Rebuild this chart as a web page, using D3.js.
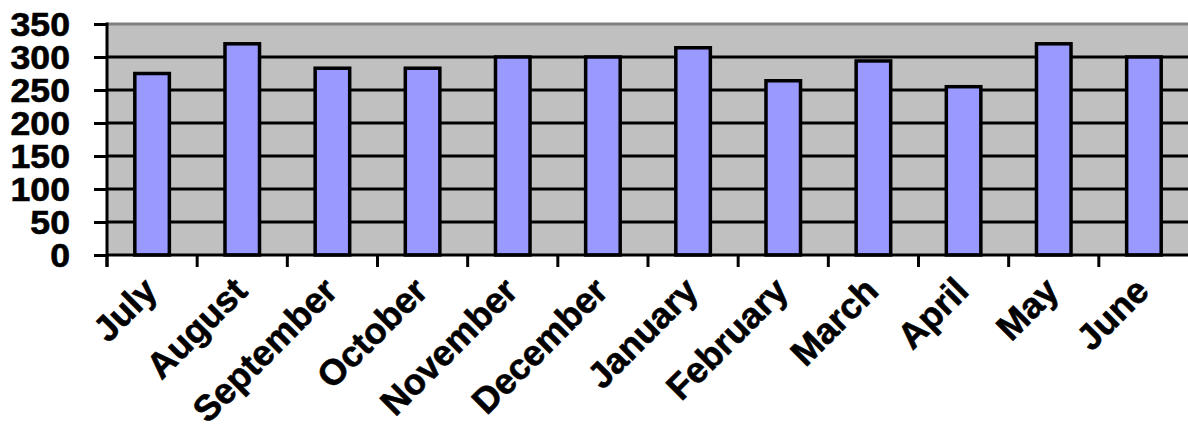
<!DOCTYPE html>
<html>
<head>
<meta charset="utf-8">
<script src="https://cdn.jsdelivr.net/npm/d3@7"></script>
<style>
  html, body { margin: 0; padding: 0; background: #fff; }
  svg { display: block; }
  text { font-family: "Liberation Sans", Arial, sans-serif; font-weight: bold; fill: #000; }
</style>
</head>
<body>
<svg id="chart" width="1188" height="432"></svg>
<script>
// Monthly values, July through June
const months = ["July", "August", "September", "October", "November", "December",
                "January", "February", "March", "April", "May", "June"];
const values = [275, 320, 283, 283, 300, 300, 314, 264, 294, 255, 320, 300];
const yTicks = [0, 50, 100, 150, 200, 250, 300, 350];

const svg = d3.select("#chart");
const plot = { left: 107, right: 1189, top: 24, bottom: 255 };

const x = d3.scaleBand()
  .domain(months)
  .range([plot.left, plot.right])
  .paddingInner(0.617)
  .paddingOuter(0.617 / 2);

const y = d3.scaleLinear()
  .domain([0, 350])
  .range([plot.bottom, plot.top]);

// Plot area background
svg.append("rect")
  .attr("x", plot.left)
  .attr("y", plot.top)
  .attr("width", plot.right - plot.left)
  .attr("height", plot.bottom - plot.top)
  .attr("fill", "#c0c0c0");

// Top border of plot area
svg.append("line")
  .attr("x1", plot.left).attr("x2", plot.right)
  .attr("y1", plot.top).attr("y2", plot.top)
  .attr("stroke", "#808080").attr("stroke-width", 3);

// Horizontal gridlines
svg.append("g")
  .selectAll("line")
  .data(yTicks.filter(t => t > 0 && t < 350))
  .join("line")
  .attr("x1", plot.left).attr("x2", plot.right)
  .attr("y1", d => y(d)).attr("y2", d => y(d))
  .attr("stroke", "#000").attr("stroke-width", 3);

// Bars
svg.append("g")
  .selectAll("rect")
  .data(months.map((m, i) => ({ m, v: values[i] })))
  .join("rect")
  .attr("x", d => x(d.m))
  .attr("y", d => y(d.v))
  .attr("width", x.bandwidth())
  .attr("height", d => y(0) - y(d.v))
  .attr("fill", "#9999ff")
  .attr("stroke", "#000")
  .attr("stroke-width", 3.5);

// Y axis
const yAxis = svg.append("g")
  .attr("transform", `translate(${plot.left},0)`)
  .call(d3.axisLeft(y).tickValues(yTicks).tickSize(13).tickFormat(""));
yAxis.select(".domain").remove();
yAxis.selectAll(".tick line").attr("stroke", "#000").attr("stroke-width", 3);
svg.append("line")
  .attr("x1", plot.left).attr("x2", plot.left)
  .attr("y1", plot.top - 1.5).attr("y2", plot.bottom + 12)
  .attr("stroke", "#000").attr("stroke-width", 3);

// Y tick labels
svg.append("g")
  .selectAll("text")
  .data(yTicks)
  .join("text")
  .attr("transform", d => `translate(70,${y(d)}) scale(1.08,1)`)
  .attr("dy", "0.36em")
  .attr("text-anchor", "end")
  .attr("font-size", 33)
  .attr("stroke", "#000")
  .attr("stroke-width", 0.6)
  .text(d => d);

// X axis line and category boundary ticks
svg.append("line")
  .attr("x1", plot.left).attr("x2", plot.right)
  .attr("y1", plot.bottom).attr("y2", plot.bottom)
  .attr("stroke", "#000").attr("stroke-width", 3);

const step = x.step();
const boundaries = months.map(m => x(m) - x.paddingOuter() * step);
svg.append("g")
  .selectAll("line")
  .data(boundaries)
  .join("line")
  .attr("x1", d => d).attr("x2", d => d)
  .attr("y1", plot.bottom).attr("y2", plot.bottom + 12)
  .attr("stroke", "#000").attr("stroke-width", 3);

// X labels, rotated
svg.append("g")
  .selectAll("text")
  .data(months)
  .join("text")
  .attr("transform", d => `translate(${x(d) + x.bandwidth() / 2 + 7},${plot.bottom + 38}) rotate(-45)`)
  .attr("text-anchor", "end")
  .attr("font-size", 36)
  .attr("stroke", "#000")
  .attr("stroke-width", 0.6)
  .text(d => d);
</script>
</body>
</html>
